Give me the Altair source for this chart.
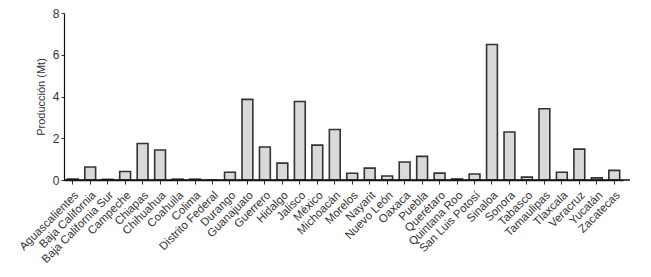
import altair as alt
import pandas as pd

states = ["Aguascalientes", "Baja California", "Baja California Sur", "Campeche", "Chiapas",
          "Chihuahua", "Coahuila", "Colima", "Distrito Federal", "Durango", "Guanajuato",
          "Guerrero", "Hidalgo", "Jalisco", "México", "Michoacán", "Morelos", "Nayarit",
          "Nuevo León", "Oaxaca", "Puebla", "Querétaro", "Quintana Roo", "San Luis Potosí",
          "Sinaloa", "Sonora", "Tabasco", "Tamaulipas", "Tlaxcala", "Veracruz", "Yucatán",
          "Zacatecas"]
production = [0.05, 0.62, 0.03, 0.41, 1.75, 1.44, 0.04, 0.04, 0.0, 0.37, 3.86,
              1.58, 0.81, 3.76, 1.67, 2.42, 0.32, 0.57, 0.19, 0.86, 1.13, 0.33,
              0.05, 0.29, 6.49, 2.30, 0.14, 3.41, 0.37, 1.48, 0.10, 0.46]
y_ticks = [0, 2, 4, 6, 8]

df = pd.DataFrame({"estado": states, "prod": production})

font = "Liberation Sans"
txt = "#333333"

bars = alt.Chart(df).mark_bar(
    fill="#d9d9d9", stroke="#333333", strokeWidth=1.6
).encode(
    x=alt.X("estado:N", sort=states,
            scale=alt.Scale(paddingInner=0.38, paddingOuter=0.19),
            axis=alt.Axis(title=None, labelAngle=-45, labelFont=font, labelFontSize=11.5,
                          labelColor=txt, tickSize=4, tickColor="#333333",
                          domainColor="#111111", domainWidth=1.5, labelPadding=5)),
    y=alt.Y("prod:Q", scale=alt.Scale(domain=[0, 8], nice=False),
            axis=alt.Axis(title="Producción (Mt)", values=y_ticks, grid=False,
                          labelFont=font, labelFontSize=12, labelColor=txt,
                          titleFont=font, titleFontSize=11, titleFontWeight="normal",
                          titleColor=txt, titlePadding=6, tickSize=3,
                          tickColor="#333333", domainColor="#111111", domainWidth=1.2,
                          labelPadding=2)),
)

ext = alt.Chart(df).mark_rule(color="#111111", strokeWidth=1.5).encode(
    x=alt.value(0), x2=alt.value(566), y=alt.value(167)
).transform_filter(alt.datum.estado == "Aguascalientes")

chart = alt.layer(bars, ext).properties(
    width=559, height=167,
    autosize=alt.AutoSizeParams(type="none"),
    padding={"left": 56, "top": 5, "right": 10, "bottom": 90},
).configure(background="white", view=alt.ViewConfig(stroke=None))

chart.save("out.html", embed_options={"renderer": "svg", "actions": False})
